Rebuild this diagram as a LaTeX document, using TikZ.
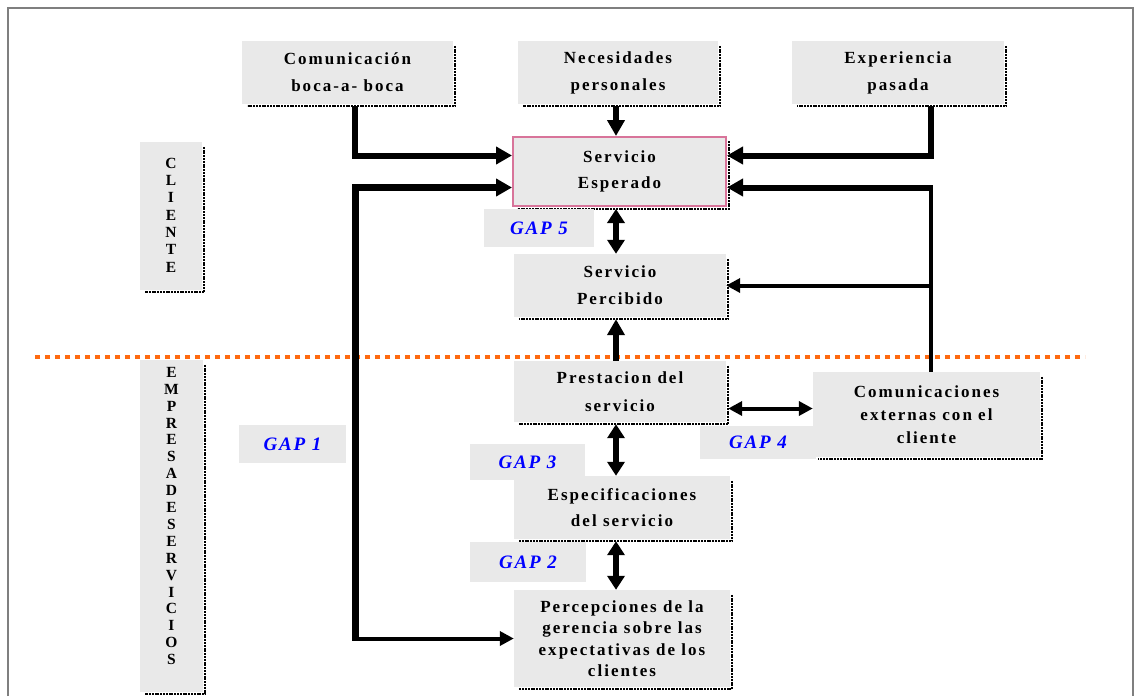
\documentclass[tikz,border=0pt]{standalone}
\usepackage{fontspec}
\setmainfont{Liberation Serif}
\newfontfamily\boxfont[LetterSpace=12]{Liberation Serif}
\newfontfamily\gapfont[LetterSpace=10]{Liberation Serif}
\usetikzlibrary{arrows.meta}
\definecolor{boxGray}{HTML}{E9E9E9}
\definecolor{framePink}{HTML}{D8749A}
\definecolor{gapBlue}{HTML}{0000FF}
\definecolor{lineOrange}{HTML}{FF6A10}
\definecolor{frameGray}{HTML}{7F7F7F}
% dotted shadow on the right and bottom side of a box
\newcommand{\boxshadow}[1]{%
  \draw[shadowline] ([shift={(2pt,-5pt)}]#1.north east) |- ([shift={(5pt,-2pt)}]#1.south west);}
\tikzset{
  shadowline/.style={line width=2.5pt, dash pattern=on 2pt off 0.8pt},
  infobox/.style={fill=boxGray, inner sep=0pt, align=center,
    font=\boxfont\bfseries\fontsize{17}{#1}\selectfont},
  infobox/.default=27,
  gapbox/.style={fill=boxGray, inner sep=0pt, text=gapBlue,
    font=\gapfont\bfseries\itshape\fontsize{19}{20}\selectfont},
  letters/.style={align=center, font=\rmfamily\bfseries\fontsize{15.5}{#1}\selectfont},
  bigarrow/.style={line width=6pt, -{Triangle[length=16pt,width=17pt]}},
  twoarrow/.style={line width=6pt, {Triangle[length=14pt,width=17pt]}-{Triangle[length=14pt,width=17pt]}},
  slimarrow/.style={line width=4pt, -{Triangle[length=14pt,width=14pt]}},
  slimtwoarrow/.style={line width=4pt, {Triangle[length=14pt,width=14pt]}-{Triangle[length=14pt,width=14pt]}},
}
\begin{document}
\begin{tikzpicture}[x=1pt, y=-1pt]
    \useasboundingbox (0,0) rectangle (1135,696);
    \draw[frameGray, line width=2pt] (8,696) -- (8,8) -- (1133,8) -- (1133,696);

    % side labels
    \node[fill=boxGray, minimum width=62, minimum height=148] (cliente) at (171,216) {};
    \node[letters=17.3] (clienteTxt) at (171,215) {C\\L\\I\\E\\N\\T\\E};
    \boxshadow{cliente}
    \node[fill=boxGray, minimum width=63, minimum height=332] (empresa) at (171.5,526) {};
    \node[letters=16.9] (empresaTxt) at (171.5,516) {E\\M\\P\\R\\E\\S\\A\\D\\E\\S\\E\\R\\V\\I\\C\\I\\O\\S};
    \boxshadow{empresa}

    % top row
    \node[infobox, minimum width=211, minimum height=63] (boca) at (347.5,72.5) {Comunicación\\boca-a- boca};
    \node[infobox, minimum width=200, minimum height=63] (necesidad) at (618,72.5) {Necesidades\\personales};
    \node[infobox, minimum width=212, minimum height=63] (experiencia) at (898,72.5) {Experiencia\\pasada};
    \boxshadow{boca}
    \boxshadow{necesidad}
    \boxshadow{experiencia}

    % central column
    \node[infobox=26, draw=framePink, line width=2pt, minimum width=213, minimum height=69] (esperado) at (619.5,171.5) {Servicio\\Esperado};
    \boxshadow{esperado}
    \node[infobox, minimum width=212, minimum height=63] (percibido) at (620,285.5) {Servicio\\Percibido};
    \boxshadow{percibido}
    \node[infobox=28, minimum width=212, minimum height=61] (prestacion) at (620,391.5) {Prestacion del\\servicio};
    \boxshadow{prestacion}
    \node[infobox=26, minimum width=216, minimum height=63] (especific) at (622,507.5) {Especificaciones\\del servicio};
    \boxshadow{especific}
    \node[infobox=21.5, minimum width=216, minimum height=97] (percepcion) at (622,638.5) {Percepciones de la\\gerencia sobre las\\expectativas de los\\clientes};
    \boxshadow{percepcion}

    % gaps
    \node[gapbox, minimum width=110, minimum height=38] (gapV) at (539,228) {GAP 5};
    \node[gapbox, minimum width=116, minimum height=33] (gapIV) at (758,442.5) {GAP 4};
    \node[gapbox, minimum width=115, minimum height=36] (gapIII) at (527.5,462) {GAP 3};
    \node[gapbox, minimum width=116, minimum height=40] (gapII) at (528,562) {GAP 2};
    \node[gapbox, minimum width=107, minimum height=38] (gapI) at (292.5,444) {GAP 1};

    \node[infobox=23, minimum width=227, minimum height=85] (externa) at (926.5,414.5) {Comunicaciones\\externas con el\\cliente};
    \boxshadow{externa}

    % divider client / company
    \draw[lineOrange, line width=4pt, dash pattern=on 5pt off 5pt] (35,357) -- (1085,357);

    % connectors
    \coordinate (midcol) at (616,0);
    \coordinate (leftcol) at (355,0);
    \coordinate (rightcol) at (931,0);
    \coordinate (espHighW) at ([yshift=16pt]esperado.west);
    \coordinate (espLowW) at ([yshift=-16pt]esperado.west);
    \coordinate (espHighE) at ([yshift=16pt]esperado.east);
    \coordinate (espLowE) at ([yshift=-16pt]esperado.east);
    \coordinate (prestLow) at ([yshift=-17pt]prestacion.east);

    \draw[bigarrow] ([yshift=-2pt]boca.south -| leftcol) |- (espHighW);
    \draw[bigarrow] ([yshift=-2pt]necesidad.south -| midcol) -- (esperado.north -| midcol);
    \draw[bigarrow] ([yshift=-2pt]experiencia.south -| rightcol) |- (espHighE);

    \draw[bigarrow, line width=7pt] (percepcion.west -| leftcol) |- (espLowW);
    \draw[slimarrow] ([xshift=-3pt]percepcion.west -| leftcol) -- (percepcion.west);

    \draw[line width=3.5pt] (externa.north -| rightcol) -- (espLowE -| rightcol);
    \draw[bigarrow] ([xshift=1.5pt]espLowE -| rightcol) -- (espLowE);
    \draw[slimarrow] (percibido.east -| rightcol) -- (percibido.east);

    \draw[twoarrow] ([yshift=-2pt]esperado.south -| midcol) -- (percibido.north -| midcol);
    \draw[bigarrow] (prestacion.north -| midcol) -- ([yshift=-2pt]percibido.south -| midcol);
    \draw[twoarrow] ([yshift=-2pt]prestacion.south -| midcol) -- (especific.north -| midcol);
    \draw[twoarrow] ([yshift=-2pt]especific.south -| midcol) -- (percepcion.north -| midcol);
    \draw[slimtwoarrow] ([xshift=2pt]prestLow) -- (prestLow -| externa.west);
\end{tikzpicture}
\end{document}
